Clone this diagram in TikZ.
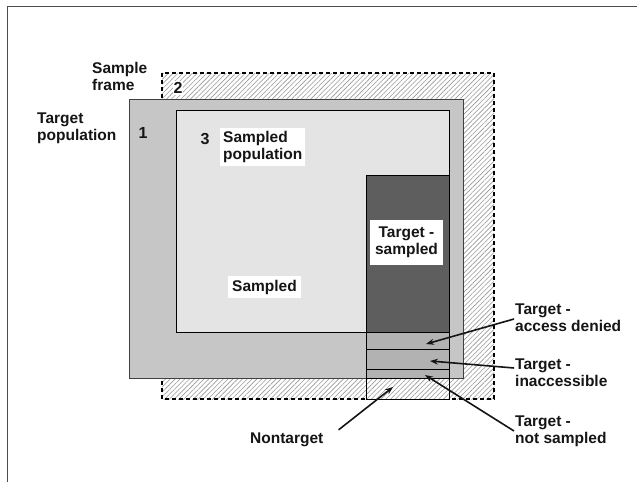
\documentclass[tikz,border=0pt]{standalone}
\usepackage{fontspec}
\setmainfont{Liberation Sans}
\usetikzlibrary{patterns.meta,arrows.meta,calc}
\definecolor{tpop}{HTML}{C6C6C6}
\definecolor{spop}{HTML}{E4E4E4}
\definecolor{dark}{HTML}{5E5E5E}
\definecolor{strip}{HTML}{B2B2B2}
\definecolor{txt}{HTML}{151515}
\begin{document}
\begin{tikzpicture}[x=1pt,y=-1pt,
  lbl/.style={font=\bfseries\fontsize{15.5}{17}\selectfont, text=txt, inner sep=0pt, align=left},
  num/.style={font=\bfseries\fontsize{16}{17}\selectfont, text=txt, inner sep=1pt},
  hatch/.style={pattern={Lines[angle=45,distance=3.4pt,line width=0.6pt]}, pattern color=gray!80},
  arr/.style={line width=1.6pt, draw=txt, -{Stealth[length=8pt,width=6pt]}}]
\useasboundingbox (0,0) rectangle (639,482);
\fill[white] (0,0) rectangle (639,482);
\draw[gray!60!black, line width=0.9pt] (7,482) -- (7,6) -- (637,6);
% sample frame (hatched, dashed)
\fill[white] (162,73) rectangle (494,399);
\fill[hatch] (162,73) rectangle (494,399);
\draw[line width=1.5pt, dash pattern=on 4pt off 3pt] (162,73) rectangle (494,399);
% target population
\draw[fill=tpop, draw=gray!50!black, line width=0.8pt] (129,99) rectangle (463,378);
% sampled population
\draw[fill=spop, draw=black, line width=1pt] (176,110) rectangle (449,332);
% target sampled column
\fill[dark] (366,175) rectangle (449,332);
\fill[strip] (366,332) rectangle (449,378);
\fill[white] (366,378) rectangle (449,399);
\fill[hatch] (366,378) rectangle (449,399);
\draw[black, line width=1pt] (366,175) rectangle (449,399);
\foreach \yy in {332,349,369,378} \draw[black, line width=1pt] (366,\yy) -- (449,\yy);
% labels
\node[lbl, anchor=west] (sf) at (92,76) {Sample\\frame};
\node[lbl, anchor=west] (tp) at (37,128) {Target\\population};
\node[num, fill=white] (n2) at (178,88) {2};
\node[num] (n1) at (143,133) {1};
\node[num] (n3) at (205,139) {3};
\node[lbl, anchor=west, fill=white, inner sep=3pt] (sp) at (220,147) {Sampled\\population};
\node[lbl, fill=white, align=center, minimum width=73pt, minimum height=45pt] (ts) at (406.5,242.5) {Target -\\sampled};
\node[lbl, fill=white, inner sep=4pt] (sd) at (264.5,287) {Sampled};
\node[lbl, anchor=west] (nt) at (250,440) {Nontarget};
\node[lbl, anchor=west] (ad) at (515,318) {Target -\\access denied};
\node[lbl, anchor=west] (ia) at (515,373) {Target -\\inaccessible};
\node[lbl, anchor=west] (ns) at (515,431) {Target -\\not sampled};
% arrow targets
\coordinate (cad) at (426,344);
\coordinate (cia) at (430,361);
\coordinate (cns) at (425,375);
\coordinate (cnt) at (393,387);
\draw[arr] ([shift={(-1pt,-1pt)}]ad.west) -- (cad);
\draw[arr] ([shift={(-1pt,5pt)}]ia.west) -- (cia);
\draw[arr] ([shift={(-1pt,0pt)}]ns.west) -- (cns);
\draw[arr] ([shift={(15pt,3pt)}]nt.north east) -- (cnt);
\end{tikzpicture}
\end{document}
